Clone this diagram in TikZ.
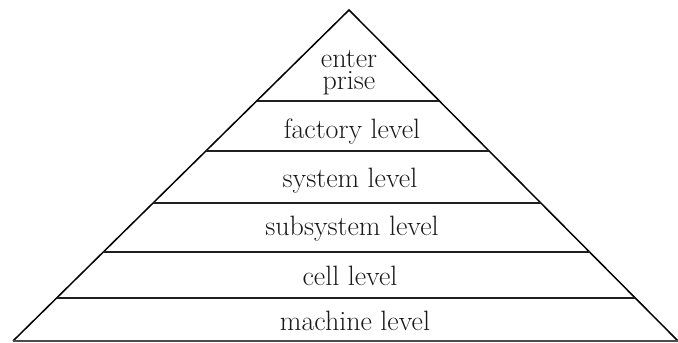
\documentclass[tikz,border=0pt]{standalone}
\usetikzlibrary{calc}
\begin{document}
\begin{tikzpicture}[x=1pt,y=-1pt,
  edge/.style={line width=1.5pt,black,line join=miter},
  level/.style={line width=1.5pt,black!88},
  baseln/.style={line width=1.3pt,black!70},
  lbl/.style={anchor=base,inner sep=0pt,font=\fontsize{28}{22}\selectfont,text=black!90}]
\useasboundingbox (0,0) rectangle (678,343);
\coordinate (A) at (349,10);
\coordinate (BL) at (13,341);
\coordinate (BR) at (678,341);
\draw[edge] (BL) -- (A) -- (BR);
\draw[baseln] (BL) -- (BR);
\foreach \n/\t in {l1/0.2749,l2/0.4260,l3/0.5831,l4/0.7311,l5/0.8701}{
  \coordinate (\n L) at ($(A)!\t!(BL)$);
  \coordinate (\n R) at ($(A)!\t!(BR)$);
  \draw[level] (\n L) -- (\n R);
}
\node[lbl,anchor=center,align=center] (t0) at (349,73.1) {enter\\prise};
\node[lbl] (t1) at (352,138) {factory level};
\node[lbl] (t2) at (350,187) {system level};
\node[lbl] (t3) at (352,235) {subsystem level};
\node[lbl] (t4) at (350,285) {cell level};
\node[lbl] (t5) at (355,330) {machine level};
\end{tikzpicture}
\end{document}
